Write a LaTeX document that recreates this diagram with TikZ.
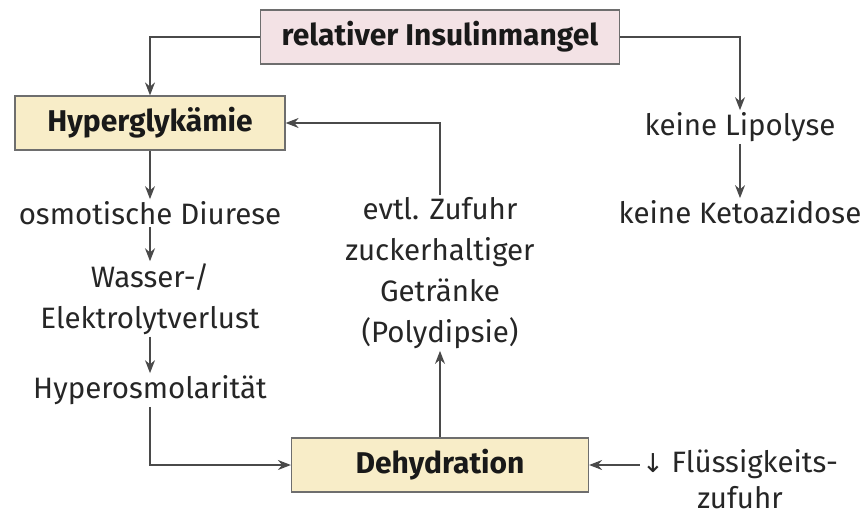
\documentclass[tikz,border=0pt]{standalone}
\usepackage{fontspec}
\setmainfont{Fira Sans}
\newfontfamily\symfont{DejaVu Sans}
\usetikzlibrary{arrows.meta}
\definecolor{boxpink}{HTML}{F3E2E5}
\definecolor{boxsand}{HTML}{F8EDC8}
\definecolor{linegray}{HTML}{4A4A4A}
\tikzset{
  keybox/.style={rectangle, fill=#1, draw=linegray!80, line width=1.2pt,
                 font=\fontsize{30}{34}\selectfont\bfseries, text=black!90,
                 minimum height=54pt, inner sep=0pt},
  txt/.style={font=\fontsize{29.5}{41}\selectfont, align=center, text=black!85, inner sep=2pt},
  flow/.style={-{Stealth[length=13pt, width=10pt]}, line width=1.3pt, draw=linegray},
}

\begin{document}
\begin{tikzpicture}[x=1pt, y=-1pt]
  \useasboundingbox (0,0) rectangle (864,516);
  % boxes
  \node[keybox=boxpink, minimum width=359pt] (mangel) at (440,37) {relativer Insulinmangel};
  \node[keybox=boxsand, minimum width=270pt] (hyper) at (150,123) {Hyperglykämie};
  \node[keybox=boxsand, minimum width=297pt] (dehyd) at (440,465) {Dehydration};
  % left chain
  \node[txt] (diurese) at (150,213) {osmotische Diurese};
  \node[txt] (verlust) at (150,299) {Wasser-/\\Elektrolytverlust};
  \node[txt] (osmol) at (150,390) {Hyperosmolarität};
  % middle and right
  \node[txt] (zufuhr) at (440,273) {evtl. Zufuhr\\zuckerhaltiger\\Getränke\\(Polydipsie)};
  \node[txt] (lipo) at (740,127) {keine Lipolyse};
  \node[txt] (keto) at (740,212) {keine Ketoazidose};
  \node[txt, font=\fontsize{29.5}{36}\selectfont] (fluess) at (740,479)
    {{\symfont\fontsize{26}{30}\selectfont↓} Flüssigkeits-\\zufuhr};
  % connectors
  \draw[flow] (mangel.west) -| (hyper.north);
  \draw[flow] (mangel.east) -| (lipo.north);
  \draw[flow] (lipo) -- (keto);
  \draw[flow] (hyper) -- (diurese);
  \draw[flow] (diurese) -- (verlust);
  \draw[flow] (verlust) -- (osmol);
  \draw[flow] (osmol.south) |- (dehyd.west);
  \draw[flow] (dehyd) -- (zufuhr);
  \draw[flow] (zufuhr.north) |- (hyper.east);
  \draw[flow] (fluess.west |- dehyd) -- (dehyd.east);
\end{tikzpicture}
\end{document}
